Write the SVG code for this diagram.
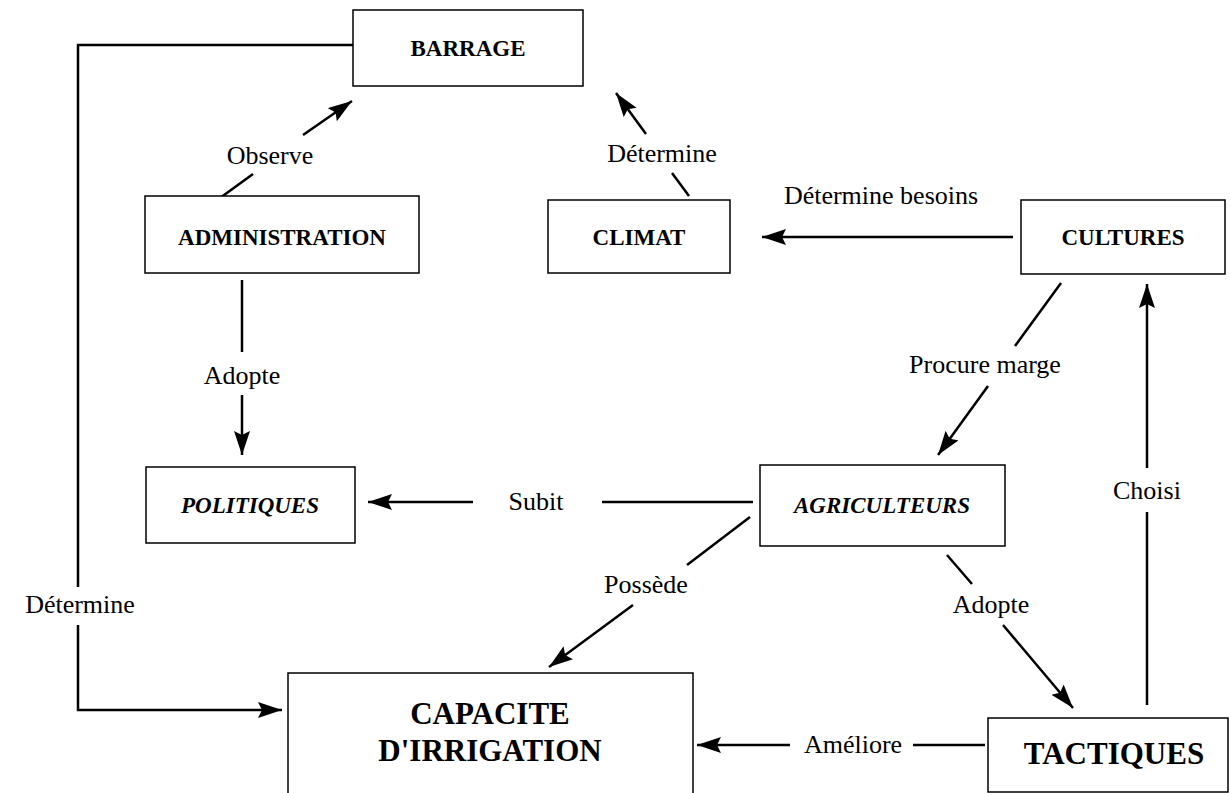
<svg xmlns="http://www.w3.org/2000/svg" width="1231" height="793" viewBox="0 0 1231 793">
<style>
.box{fill:#fff;stroke:#000;stroke-width:1.5}
.n{font-family:"Liberation Serif",serif;font-weight:bold;font-size:23px;text-anchor:middle}
.i{font-style:italic}
.big{font-size:31px}
.lbl{font-family:"Liberation Serif",serif;font-size:26px;text-anchor:middle}
.c{fill:none;stroke:#000;stroke-width:2.5}
.a{marker-end:url(#ah)}
</style>
<defs>
<marker id="ah" markerUnits="userSpaceOnUse" markerWidth="26" markerHeight="18" refX="24" refY="8" orient="auto">
<path d="M0,0 L24,8 L0,16 L4,8 z" fill="#000"/>
</marker>
</defs>
<rect width="1231" height="793" fill="#fff"/>
<g id="connectors">
<line class="c" x1="220" y1="198" x2="253" y2="174"/>
<line class="c a" x1="303" y1="135" x2="352" y2="101"/>
<text class="lbl" x="270" y="164">Observe</text>
<line class="c" x1="689" y1="196" x2="672" y2="173"/>
<line class="c a" x1="646" y1="134" x2="616" y2="93"/>
<text class="lbl" x="662" y="162">Détermine</text>
<line class="c a" x1="1013" y1="237" x2="762" y2="237"/>
<text class="lbl" x="881" y="204">Détermine besoins</text>
<line class="c" x1="1061" y1="283" x2="1015" y2="346"/>
<line class="c a" x1="988" y1="386" x2="938" y2="455"/>
<text class="lbl" x="985" y="373">Procure marge</text>
<line class="c" x1="242" y1="280" x2="242" y2="352"/>
<line class="c a" x1="242" y1="395" x2="242" y2="455"/>
<text class="lbl" x="242" y="384">Adopte</text>
<line class="c" x1="753" y1="502" x2="602" y2="502"/>
<line class="c a" x1="473" y1="502" x2="368" y2="502"/>
<text class="lbl" x="536" y="510">Subit</text>
<line class="c" x1="750" y1="517" x2="687" y2="565"/>
<line class="c a" x1="633" y1="605" x2="549" y2="667"/>
<text class="lbl" x="646" y="593">Possède</text>
<line class="c" x1="947" y1="555" x2="972" y2="584"/>
<line class="c a" x1="1003" y1="625" x2="1073" y2="708"/>
<text class="lbl" x="991" y="613">Adopte</text>
<line class="c" x1="1147" y1="705" x2="1147" y2="512"/>
<line class="c a" x1="1147" y1="468" x2="1147" y2="284"/>
<text class="lbl" x="1147" y="499">Choisi</text>
<line class="c" x1="985" y1="745" x2="913" y2="745"/>
<line class="c a" x1="790" y1="745" x2="697" y2="745"/>
<text class="lbl" x="853" y="753">Améliore</text>
<path class="c" d="M353,45 H78 V587"/>
<path class="c a" d="M78,625 V710 H282"/>
<text class="lbl" x="80" y="613">Détermine</text>
</g>
<g id="barrage"><rect class="box" x="353" y="10" width="230" height="76"/><text class="n" x="468" y="56">BARRAGE</text></g>
<g id="administration"><rect class="box" x="145" y="196" width="274" height="77"/><text class="n" x="282" y="245">ADMINISTRATION</text></g>
<g id="climat"><rect class="box" x="548" y="200" width="182" height="73"/><text class="n" x="639" y="245">CLIMAT</text></g>
<g id="cultures"><rect class="box" x="1021" y="200" width="204" height="74"/><text class="n" x="1123" y="245">CULTURES</text></g>
<g id="politiques"><rect class="box" x="146" y="467" width="209" height="76"/><text class="n i" x="250" y="513">POLITIQUES</text></g>
<g id="agriculteurs"><rect class="box" x="760" y="465" width="245" height="81"/><text class="n i" x="882" y="513">AGRICULTEURS</text></g>
<g id="capacite"><rect class="box" x="288" y="673" width="405" height="140"/><text class="n big" x="490" y="724">CAPACITE</text><text class="n big" x="490" y="761">D'IRRIGATION</text></g>
<g id="tactiques"><rect class="box" x="988" y="718" width="240" height="74"/><text class="n big" x="1114" y="764">TACTIQUES</text></g>
</svg>
